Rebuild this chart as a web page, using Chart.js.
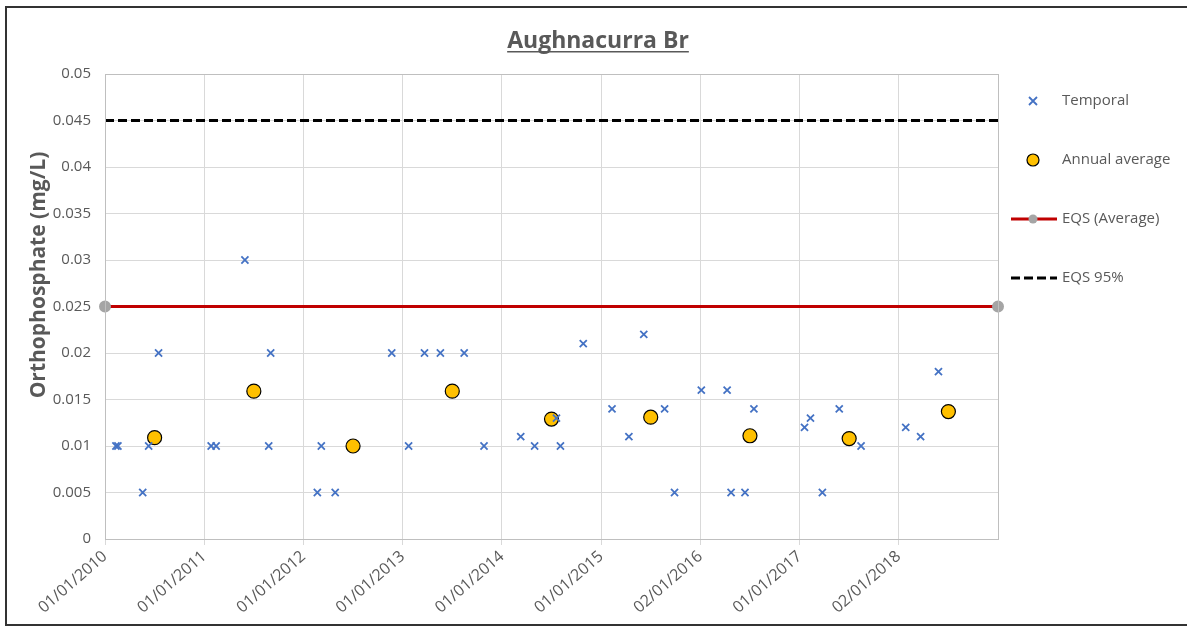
<!DOCTYPE html>
<html>
<head>
<meta charset="utf-8">
<title>Aughnacurra Br</title>
<script src="https://cdn.jsdelivr.net/npm/chart.js@4.4.1/dist/chart.umd.min.js"></script>
<style>
  html, body { margin: 0; padding: 0; background: #fff; }
  #wrap { width: 1187px; height: 626px; }
</style>
</head>
<body>
<div id="wrap"><canvas id="myChart" width="1187" height="626"></canvas></div>
<script>
// sample dates as decimal years
var temporalDates = [
    2010.11, 2010.13, 2010.38, 2010.44, 2010.54,
    2011.07, 2011.12, 2011.41, 2011.65, 2011.67,
    2012.14, 2012.18, 2012.32, 2012.89,
    2013.06, 2013.22, 2013.38, 2013.62, 2013.82,
    2014.19, 2014.33, 2014.55, 2014.59, 2014.82,
    2015.11, 2015.28, 2015.43, 2015.64, 2015.74,
    2016.01, 2016.27, 2016.31, 2016.45, 2016.54,
    2017.05, 2017.11, 2017.23, 2017.40, 2017.62,
    2018.07, 2018.22, 2018.40
];
var temporalValues = [
    0.01, 0.01, 0.005, 0.01, 0.02,
    0.01, 0.01, 0.03, 0.01, 0.02,
    0.005, 0.01, 0.005, 0.02,
    0.01, 0.02, 0.02, 0.02, 0.01,
    0.011, 0.01, 0.013, 0.01, 0.021,
    0.014, 0.011, 0.022, 0.014, 0.005,
    0.016, 0.016, 0.005, 0.005, 0.014,
    0.012, 0.013, 0.005, 0.014, 0.01,
    0.012, 0.011, 0.018
];
var averageYears = [2010.5, 2011.5, 2012.5, 2013.5, 2014.5, 2015.5, 2016.5, 2017.5, 2018.5];
var averageValues = [0.0109, 0.0159, 0.0100, 0.0159, 0.0129, 0.0131, 0.0111, 0.0108, 0.0137];

var eqsAverage = 0.025;
var eqs95 = 0.045;
var xStart = 2010, xEnd = 2019;

var xTickLabels = [
    "01/01/2010", "01/01/2011", "01/01/2012", "01/01/2013", "01/01/2014",
    "01/01/2015", "02/01/2016", "01/01/2017", "02/01/2018"
];
var yTickLabels = ["0", "0.005", "0.01", "0.015", "0.02", "0.025", "0.03", "0.035", "0.04", "0.045", "0.05"];

var textGrey = "#595959";
Chart.defaults.font.family = '"Open Sans", sans-serif';
Chart.defaults.color = textGrey;

function pts(xs, ys) {
    return xs.map(function (x, i) { return {x: x, y: ys[i]}; });
}

// frame, titles and legend drawn round the plot
var decor = {
    id: 'decor',
    beforeDraw: function (chart) {
        var c = chart.ctx;
        c.save();
        c.fillStyle = '#fff';
        c.fillRect(0, 0, chart.width, chart.height);
        c.restore();
    },
    afterDatasetsDraw: function (chart) {
        var c = chart.ctx, a = chart.chartArea;
        c.save();
        c.strokeStyle = '#bfbfbf';
        c.lineWidth = 1;
        c.strokeRect(a.left + 0.5, a.top + 0.5, a.right - a.left, a.bottom - a.top);
        c.restore();
    },
    afterDraw: function (chart) {
        var c = chart.ctx;
        c.save();
        // outer frame
        c.strokeStyle = '#333';
        c.lineWidth = 2;
        c.strokeRect(6, 7, 1200, 618);

        // title
        c.font = 'bold 23px "Open Sans", sans-serif';
        c.fillStyle = textGrey;
        c.textAlign = 'center';
        c.textBaseline = 'alphabetic';
        var t = 'Aughnacurra Br';
        c.fillText(t, 598, 48);
        var w = c.measureText(t).width;
        c.fillRect(598 - w / 2, 51, w, 1.5);

        // y axis title (sits a little above the plot centre, as in Excel)
        c.save();
        c.translate(39, 275);
        c.rotate(-Math.PI / 2);
        c.font = 'bold 21px "Open Sans", sans-serif';
        c.textBaseline = 'middle';
        c.fillText('Orthophosphate (mg/L)', 0, 0);
        c.restore();

        // legend
        var ds = chart.data.datasets;
        var ys = [101, 160, 219, 278];
        c.font = '15px "Open Sans", sans-serif';
        c.textAlign = 'left';
        c.textBaseline = 'middle';
        ds.forEach(function (d, i) {
            var y = ys[i];
            if (i === 0) {
                c.strokeStyle = d.borderColor;
                c.lineWidth = d.borderWidth;
                c.beginPath();
                c.moveTo(1029, y - 4); c.lineTo(1037, y + 4);
                c.moveTo(1037, y - 4); c.lineTo(1029, y + 4);
                c.stroke();
            } else if (i === 1) {
                c.fillStyle = d.backgroundColor;
                c.strokeStyle = d.borderColor;
                c.lineWidth = d.borderWidth;
                c.beginPath();
                c.arc(1033, y, 6, 0, Math.PI * 2);
                c.fill(); c.stroke();
            } else {
                c.strokeStyle = d.borderColor;
                c.lineWidth = d.borderWidth;
                c.setLineDash(d.borderDash || []);
                c.beginPath();
                c.moveTo(1011, y); c.lineTo(1057, y);
                c.stroke();
                c.setLineDash([]);
                if (d.pointRadius > 0) {
                    c.fillStyle = d.pointBackgroundColor;
                    c.beginPath();
                    c.arc(1033, y, d.pointRadius, 0, Math.PI * 2);
                    c.fill();
                }
            }
            c.fillStyle = textGrey;
            c.fillText(d.label, 1062, y);
        });
        c.restore();
    }
};

var ctx = document.getElementById("myChart");
var myChart = new Chart(ctx, {
    type: 'scatter',
    data: {
        datasets: [
            {
                label: 'Temporal',
                data: pts(temporalDates, temporalValues),
                pointStyle: 'crossRot',
                pointRadius: 5,
                borderColor: '#4472c4',
                backgroundColor: '#4472c4',
                borderWidth: 1.8
            },
            {
                label: 'Annual average',
                data: pts(averageYears, averageValues),
                pointStyle: 'circle',
                pointRadius: 7,
                backgroundColor: '#ffc000',
                borderColor: '#000',
                borderWidth: 1.2
            },
            {
                label: 'EQS (Average)',
                type: 'line',
                data: [{x: xStart, y: eqsAverage}, {x: xEnd, y: eqsAverage}],
                borderColor: '#c00000',
                borderWidth: 3,
                pointRadius: 4.5,
                pointBackgroundColor: '#a5a5a5',
                pointBorderColor: '#a5a5a5',
                clip: false
            },
            {
                label: 'EQS 95%',
                type: 'line',
                data: [{x: xStart, y: eqs95}, {x: xEnd, y: eqs95}],
                borderColor: '#000',
                borderWidth: 3,
                borderDash: [9, 4],
                pointRadius: 0
            }
        ]
    },
    options: {
        responsive: false,
        animation: false,
        layout: {padding: {top: 74, right: 189, bottom: 0, left: 0}},
        plugins: {
            legend: {display: false},
            title: {display: false},
            tooltip: {enabled: false}
        },
        scales: {
            x: {
                type: 'linear',
                min: xStart,
                max: xEnd,
                afterFit: function (s) { s.height = 87; },
                afterBuildTicks: function (s) {
                    s.ticks = s.ticks.filter(function (t) { return t.value < xEnd; });
                },
                ticks: {
                    stepSize: 1,
                    minRotation: 41,
                    maxRotation: 41,
                    padding: 2,
                    font: {size: 16},
                    color: textGrey,
                    callback: function (v) { return xTickLabels[Math.round(v - xStart)] || ''; }
                },
                grid: {color: '#d9d9d9', tickLength: 6, tickColor: '#d9d9d9'},
                border: {color: '#bfbfbf'}
            },
            y: {
                min: 0,
                max: 0.05,
                afterFit: function (s) { s.width = 105; },
                ticks: {
                    stepSize: 0.005,
                    padding: 14,
                    font: {size: 15},
                    color: textGrey,
                    callback: function (v) { return yTickLabels[Math.round(v / 0.005)]; }
                },
                grid: {color: '#d9d9d9', drawTicks: false},
                border: {color: '#bfbfbf'}
            }
        }
    },
    plugins: [decor]
});
</script>
</body>
</html>
